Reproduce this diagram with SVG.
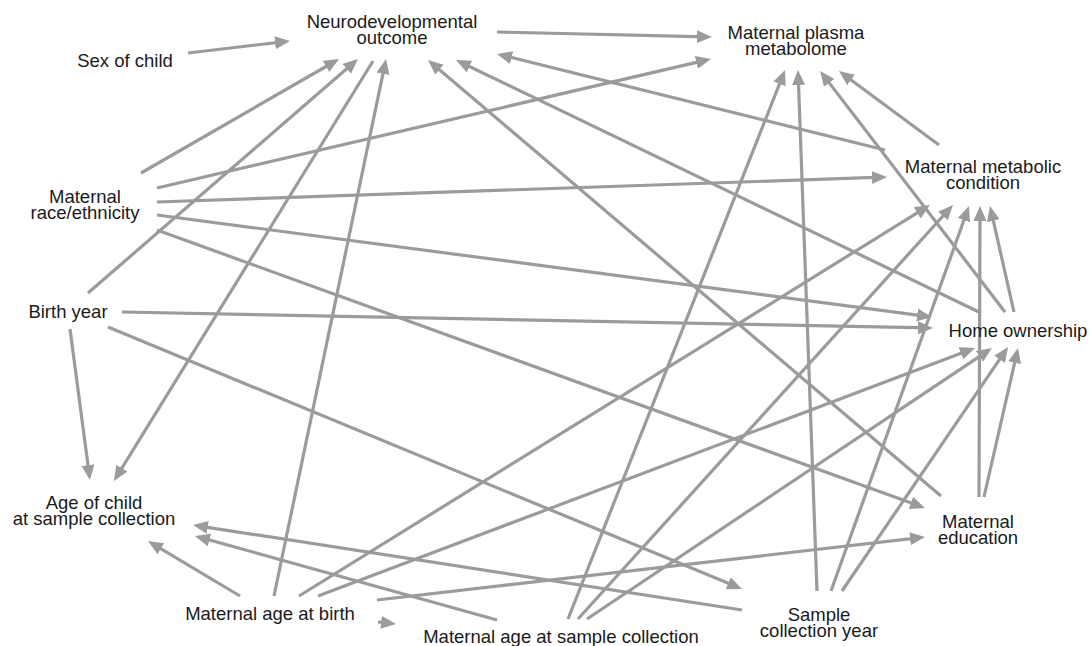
<svg xmlns="http://www.w3.org/2000/svg" width="1090" height="646" viewBox="0 0 1090 646">
<defs>
<marker id="ah" markerUnits="userSpaceOnUse" markerWidth="16" markerHeight="14" refX="10" refY="6.5" orient="auto">
<path d="M0,0 L15,6.5 L0,13 z" fill="#9b9b9b"/>
</marker>
<style>
.e line{stroke:#9b9b9b;stroke-width:3.2;marker-end:url(#ah);}
text{font-family:"Liberation Sans",Arial,sans-serif;font-size:18.5px;fill:#1a1a1a;text-anchor:middle;}
</style>
</defs>
<rect width="1090" height="646" fill="#ffffff"/>
<g id="connectors" class="e">
<line x1="188" y1="53" x2="285" y2="41.6"/>
<line x1="497" y1="32" x2="707" y2="36.9"/>
<line x1="141" y1="173" x2="334.7" y2="61.5"/>
<line x1="88" y1="293" x2="354.2" y2="62.3"/>
<line x1="373" y1="61" x2="116.6" y2="476.7"/>
<line x1="274" y1="596" x2="385" y2="63.9"/>
<line x1="941" y1="496" x2="431.8" y2="63.2"/>
<line x1="981" y1="313" x2="460.5" y2="62.2"/>
<line x1="885" y1="150" x2="501.9" y2="55.2"/>
<line x1="157" y1="188" x2="706.1" y2="60.1"/>
<line x1="157" y1="202" x2="882" y2="177.2"/>
<line x1="157" y1="215" x2="927" y2="316.3"/>
<line x1="157" y1="230" x2="920.3" y2="506.3"/>
<line x1="122" y1="312" x2="928" y2="327.9"/>
<line x1="70" y1="329" x2="89.3" y2="475"/>
<line x1="108" y1="327" x2="737.4" y2="587.1"/>
<line x1="568" y1="619" x2="783.2" y2="74.6"/>
<line x1="817" y1="591" x2="798.2" y2="75"/>
<line x1="1005" y1="312" x2="823.1" y2="74.9"/>
<line x1="939" y1="145" x2="843" y2="74"/>
<line x1="299" y1="596" x2="925.7" y2="207.6"/>
<line x1="578" y1="619" x2="949.6" y2="208.7"/>
<line x1="831" y1="591" x2="967.3" y2="210.7"/>
<line x1="979" y1="497" x2="980" y2="211"/>
<line x1="1014" y1="312" x2="991.1" y2="210.9"/>
<line x1="318" y1="596" x2="970.3" y2="349.8"/>
<line x1="587" y1="619" x2="987.8" y2="350.8"/>
<line x1="842" y1="591" x2="1005.2" y2="351.1"/>
<line x1="984" y1="497" x2="1016.9" y2="352.9"/>
<line x1="377" y1="600" x2="920" y2="537.6"/>
<line x1="378" y1="622" x2="391" y2="623.4"/>
<line x1="240" y1="596" x2="152.3" y2="543.6"/>
<line x1="742" y1="610" x2="197.9" y2="525.8"/>
<line x1="497" y1="620" x2="199.8" y2="537.3"/>
</g>
<g id="neuro"><text x="392" y="27.5">Neurodevelopmental<tspan x="392" dy="16">outcome</tspan></text></g>
<g id="sex"><text x="125" y="67">Sex of child</text></g>
<g id="plasma"><text x="796" y="39">Maternal plasma<tspan x="796" dy="16">metabolome</tspan></text></g>
<g id="metabolic"><text x="983" y="173">Maternal metabolic<tspan x="983" dy="16">condition</tspan></text></g>
<g id="race"><text x="85" y="203">Maternal<tspan x="85" dy="16">race/ethnicity</tspan></text></g>
<g id="birthyear"><text x="68" y="318">Birth year</text></g>
<g id="home"><text x="1018" y="337">Home ownership</text></g>
<g id="agechild"><text x="94" y="509">Age of child<tspan x="94" dy="16">at sample collection</tspan></text></g>
<g id="education"><text x="978" y="528">Maternal<tspan x="978" dy="16">education</tspan></text></g>
<g id="agebirth"><text x="270" y="620">Maternal age at birth</text></g>
<g id="agesample"><text x="561" y="643">Maternal age at sample collection</text></g>
<g id="sampleyear"><text x="819" y="621">Sample<tspan x="819" dy="16">collection year</tspan></text></g>
</svg>
